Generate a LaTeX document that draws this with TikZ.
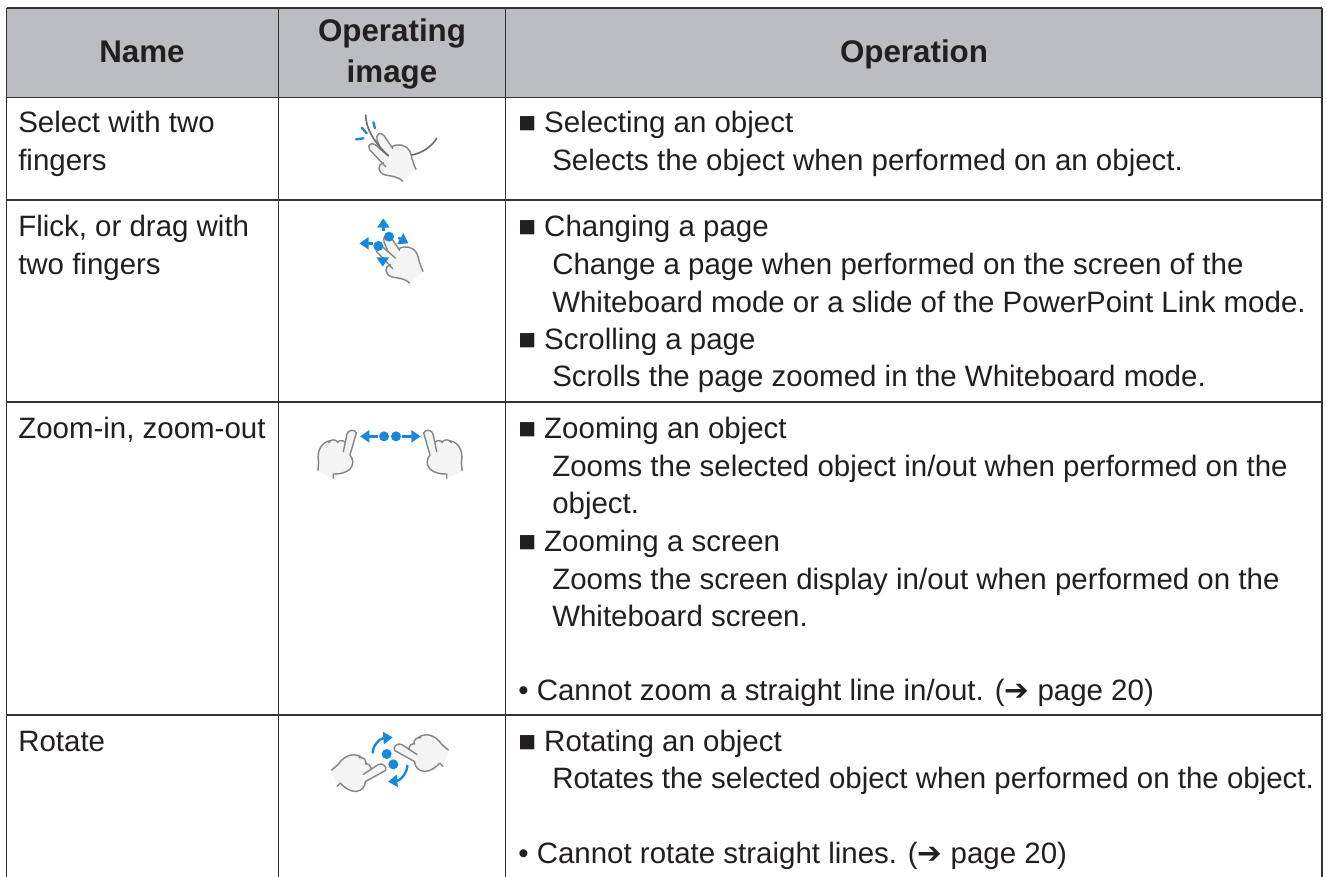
\documentclass[tikz,border=0pt]{standalone}
\usepackage{fontspec}
\setmainfont{Liberation Sans}
\newfontfamily\symfont{DejaVu Sans}
\usetikzlibrary{arrows.meta}
\definecolor{ink}{HTML}{231F20}
\definecolor{rule}{HTML}{333335}
\definecolor{headfill}{HTML}{BCBDC0}
\definecolor{touch}{HTML}{1B87DC}
\definecolor{handline}{HTML}{858585}
\definecolor{handfill}{HTML}{F4F4F4}
\tikzset{
  tablerule/.style={draw=rule,line width=1.3pt},
  bodytext/.style={anchor=base west,inner sep=0pt,text=ink,font=\fontsize{22.1}{26}\selectfont},
  headtext/.style={anchor=base,inner sep=0pt,text=ink,font=\fontsize{23.5}{28}\selectfont\bfseries},
  handstroke/.style={draw=handline,line width=1.05pt,line cap=round,line join=round},
  handbody/.style={fill=handfill},
  blueline/.style={draw=touch,line width=1.8pt},
  bluearrow/.style={draw=touch,line width=1.8pt,-{Triangle[length=7pt,width=9pt]}},
  bluedot/.style={fill=touch}
}
% one-finger hand: tip at the origin, 1 unit = 1/3 px
\newcommand\onehand{%
  \fill[handbody] (-30,30) -- (-8,-2) -- (10,10) -- (-8,73) -- (2,95) -- (-10,118) -- (-60,143) -- (-112,118) -- (-105,55) -- (-75,30) -- cycle;
  \draw[handstroke] (-30,63) -- (-19,10) .. controls (-16,-3) and (6,-6) .. (9,7) -- (-10,73) .. controls (0,85) and (3,100) .. (-10,115) .. controls (-22,128) and (-45,130) .. (-60,130) -- (-60,143);
  \draw[handstroke] (-24,34) .. controls (-34,28) and (-42,28) .. (-48,36);
  \draw[handstroke] (-48,32) .. controls (-56,25) and (-68,26) .. (-74,36);
  \draw[handstroke] (-68,30) .. controls (-90,32) and (-112,55) .. (-104,95) -- (-106,120);
}
% two-finger hand
\newcommand\twohand{%
  \fill[handbody] (148,190) -- (150,175) -- (178,143) -- (215,185) -- (240,178) -- (265,190) -- (280,225) -- (288,253) -- (248,288) -- (190,270) -- (170,250) -- (190,232) -- cycle;
  \draw[handstroke] (197,245) -- (149,194) .. controls (140,180) and (155,170) .. (167,180) -- (205,213);
  \draw[handstroke] (183,193) -- (171,165) .. controls (166,148) and (182,138) .. (192,152) -- (218,190);
  \draw[handstroke] (215,185) .. controls (235,175) and (258,178) .. (270,200) .. controls (275,212) and (276,228) .. (288,253);
  \draw[handstroke] (190,232) .. controls (172,240) and (172,262) .. (195,270) .. controls (215,274) and (228,272) .. (248,288);
}
\begin{document}
\begin{tikzpicture}[x=0.75pt,y=-0.75pt]
\useasboundingbox[fill=white] (0,0) rectangle (1327,877);
% grid
\coordinate (tl) at (6.5,8);   \coordinate (tr) at (1322,8);
\coordinate (bl) at (6.5,877); \coordinate (br) at (1322,877);
\coordinate (hl) at (6.5,97.5); \coordinate (hr) at (1322,97.5);
\coordinate (al) at (6.5,200); \coordinate (ar) at (1322,200);
\coordinate (cl) at (6.5,402); \coordinate (cr) at (1322,402);
\coordinate (dl) at (6.5,715); \coordinate (dr) at (1322,715);
\coordinate (c1t) at (278.5,8); \coordinate (c1b) at (278.5,877);
\coordinate (c2t) at (505.5,8); \coordinate (c2b) at (505.5,877);
\fill[headfill] (tl) rectangle (hr);
\draw[tablerule] (tl) -- (tr);
\draw[tablerule] (hl) -- (hr);
\draw[tablerule] (al) -- (ar);
\draw[tablerule] (cl) -- (cr);
\draw[tablerule] (dl) -- (dr);
\draw[tablerule] (tl) -- (bl);
\draw[tablerule] (tr) -- (br);
\draw[tablerule] (c1t) -- (c1b);
\draw[tablerule] (c2t) -- (c2b);
% header
\node[headtext] (hname) at (142,63) {Name};
\node[headtext] (hop1) at (392,42) {Operating};
\node[headtext] (hop2) at (392,83) {image};
\node[headtext] (hoper) at (914,63) {Operation};
% first column
\node[bodytext] (n1a) at (18,133) {Select with two};
\node[bodytext] (n1b) at (18,171) {fingers};
\node[bodytext] (n2a) at (18,237) {Flick, or drag with};
\node[bodytext] (n2b) at (18,274) {two fingers};
\node[bodytext] (n3a) at (18,438) {Zoom-in, zoom-out};
\node[bodytext] (n4a) at (18,751) {Rotate};
% third column
\node[bodytext] (o1a) at (518,133) {■ Selecting an object};
\node[bodytext] (o1b) at (552,171) {Selects the object when performed on an object.};
\node[bodytext] (o2a) at (518,237) {■ Changing a page};
\node[bodytext] (o2b) at (552,274) {Change a page when performed on the screen of the};
\node[bodytext] (o2c) at (552,312) {Whiteboard mode or a slide of the PowerPoint Link mode.};
\node[bodytext] (o2d) at (518,349) {■ Scrolling a page};
\node[bodytext] (o2e) at (552,386) {Scrolls the page zoomed in the Whiteboard mode.};
\node[bodytext] (o3a) at (518,438) {■ Zooming an object};
\node[bodytext] (o3b) at (552,476) {Zooms the selected object in/out when performed on the};
\node[bodytext] (o3c) at (552,513) {object.};
\node[bodytext] (o3d) at (518,551) {■ Zooming a screen};
\node[bodytext] (o3e) at (552,589) {Zooms the screen display in/out when performed on the};
\node[bodytext] (o3f) at (552,626) {Whiteboard screen.};
\node[bodytext] (o3g) at (518,700) {• Cannot zoom a straight line in/out. ({\symfont ➔} page 20)};
\node[bodytext] (o4a) at (518,751) {■ Rotating an object};
\node[bodytext] (o4b) at (552,788) {Rotates the selected object when performed on the object.};
\node[bodytext] (o4c) at (518,863) {• Cannot rotate straight lines. ({\symfont ➔} page 20)};
% icon: select
\begin{scope}[shift={(320,85)},x=0.25pt,y=-0.25pt]
  \twohand
  \draw[draw=handline!80!black,line width=1.2pt,line cap=round] (137,90) .. controls (138,130) and (160,170) .. (205,212);
  \draw[draw=handline!80!black,line width=1.2pt,line cap=round] (275,210) .. controls (305,205) and (335,185) .. (350,160);
  \draw[blueline,line cap=round] (160,112) -- (165,130);
  \draw[blueline,line cap=round] (125,128) -- (140,145);
  \draw[blueline,line cap=round] (108,163) -- (130,160);
\end{scope}
% icon: flick
\begin{scope}[shift={(327,187)},x=0.25pt,y=-0.25pt]
  \twohand
\end{scope}
\begin{scope}[shift={(340,195)},x=0.25pt,y=-0.25pt]
  \draw[bluearrow] (130,108) -- (130,70);
  \draw[bluearrow] (100,145) -- (58,145);
  \draw[bluearrow] (175,128) -- (205,145);
  \draw[bluearrow] (128,185) -- (128,215);
  \fill[bluedot] (115,153) circle (15);
  \fill[bluedot] (147,125) circle (15);
\end{scope}
% icon: zoom
\begin{scope}[shift={(353.3,430.7)},x=0.25pt,y=-0.25pt]
  \onehand
\end{scope}
\begin{scope}[shift={(426.7,430.7)},xscale=-1,x=0.25pt,y=-0.25pt]
  \onehand
\end{scope}
\begin{scope}[shift={(0,370)},x=0.25pt,y=-0.25pt]
  \draw[bluearrow] (1135,199) -- (1080,199);
  \draw[bluearrow] (1205,199) -- (1262,199);
  \fill[bluedot] (1152,199) circle (15);
  \fill[bluedot] (1188,199) circle (15);
\end{scope}
% icon: rotate
\begin{scope}[shift={(385,766.7)},rotate=-45,x=0.25pt,y=-0.25pt]
  \onehand
\end{scope}
\begin{scope}[shift={(395,746.7)},rotate=45,xscale=-1,x=0.25pt,y=-0.25pt]
  \onehand
\end{scope}
\begin{scope}[shift={(0,370)},x=0.25pt,y=-0.25pt]
  \draw[bluearrow] (1118,1150) .. controls (1118,1125) and (1140,1105) .. (1178,1102);
  \draw[bluearrow] (1222,1185) .. controls (1222,1210) and (1200,1232) .. (1164,1235);
  \fill[bluedot] (1160,1152) circle (15);
  \fill[bluedot] (1180,1183) circle (15);
\end{scope}
\end{tikzpicture}
\end{document}
